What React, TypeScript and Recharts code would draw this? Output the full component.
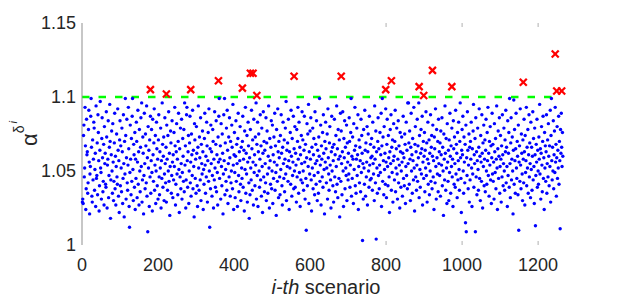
import { ScatterChart, Scatter, XAxis, YAxis, ReferenceLine } from "recharts";

// alpha^{delta^i} for every scenario i = 1..N (approx.)
const alpha = [
  1.029, 1.031, 1.028, 1.074, 1.081, 1.046, 1.052, 1.093, 1.067, 1.024, 1.038, 1.085, 1.061, 1.063, 1.035, 1.042, 1.078, 1.091, 1.056, 1.021,
  1.048, 1.053, 1.087, 1.099, 1.066, 1.033, 1.029, 1.071, 1.044, 1.058, 1.083, 1.079, 1.037, 1.051, 1.062, 1.026, 1.094, 1.045, 1.047, 1.069,
  1.034, 1.088, 1.076, 1.057, 1.023, 1.040, 1.064, 1.097, 1.052, 1.049, 1.031, 1.072, 1.086, 1.059, 1.036, 1.043, 1.068, 1.027, 1.080, 1.055,
  1.062, 1.041, 1.039, 1.090, 1.073, 1.025, 1.054, 1.058, 1.084, 1.032, 1.047, 1.066, 1.095, 1.070, 1.018, 1.044, 1.061, 1.077, 1.050, 1.035,
  1.082, 1.056, 1.030, 1.043, 1.069, 1.089, 1.038, 1.060, 1.027, 1.053, 1.075, 1.046, 1.041, 1.092, 1.064, 1.033, 1.057, 1.022, 1.071, 1.084,
  1.040, 1.067, 1.052, 1.036, 1.079, 1.063, 1.028, 1.045, 1.088, 1.055, 1.019, 1.070, 1.048, 1.099, 1.074, 1.031, 1.059, 1.085, 1.042, 1.037,
  1.054, 1.093, 1.065, 1.026, 1.012, 1.049, 1.081, 1.058, 1.034, 1.072, 1.043, 1.087, 1.099, 1.051, 1.030, 1.068, 1.061, 1.039, 1.076, 1.024,
  1.058, 1.045, 1.083, 1.070, 1.032, 1.056, 1.091, 1.041, 1.063, 1.027, 1.078, 1.050, 1.036, 1.066, 1.086, 1.053, 1.096, 1.029, 1.044, 1.073,
  1.062, 1.021, 1.047, 1.089, 1.055, 1.038, 1.075, 1.067, 1.042, 1.094, 1.033, 1.059, 1.009, 1.080, 1.052, 1.064, 1.026, 1.071, 1.046, 1.087,
  1.035, 1.057, 1.078, 1.049, 1.023, 1.085, 1.061, 1.043, 1.069, 1.092, 1.037, 1.054, 1.074, 1.028, 1.050, 1.083, 1.065, 1.040, 1.058, 1.031,
  1.071, 1.088, 1.046, 1.034, 1.063, 1.052, 1.079, 1.025, 1.057, 1.045, 1.096, 1.068, 1.039, 1.060, 1.073, 1.030, 1.048, 1.086, 1.055, 1.042,
  1.066, 1.029, 1.081, 1.058, 1.037, 1.074, 1.050, 1.090, 1.043, 1.062, 1.020, 1.053, 1.077, 1.069, 1.035, 1.047, 1.084, 1.056, 1.032, 1.061,
  1.044, 1.076, 1.053, 1.093, 1.067, 1.027, 1.041, 1.063, 1.082, 1.048, 1.058, 1.034, 1.070, 1.089, 1.051, 1.022, 1.065, 1.046, 1.079, 1.038,
  1.055, 1.085, 1.031, 1.049, 1.072, 1.060, 1.043, 1.078, 1.036, 1.096, 1.054, 1.067, 1.025, 1.044, 1.088, 1.093, 1.057, 1.039, 1.063, 1.074,
  1.028, 1.050, 1.069, 1.087, 1.042, 1.056, 1.033, 1.075, 1.061, 1.047, 1.091, 1.038, 1.064, 1.053, 1.019, 1.082, 1.071, 1.045, 1.058, 1.035,
  1.080, 1.062, 1.040, 1.026, 1.066, 1.094, 1.052, 1.037, 1.073, 1.059, 1.044, 1.086, 1.030, 1.068, 1.055, 1.048, 1.077, 1.063, 1.024, 1.051,
  1.041, 1.072, 1.089, 1.054, 1.035, 1.060, 1.046, 1.083, 1.067, 1.029, 1.057, 1.076, 1.043, 1.092, 1.050, 1.012, 1.065, 1.038, 1.081, 1.055,
  1.063, 1.033, 1.047, 1.078, 1.070, 1.025, 1.058, 1.044, 1.090, 1.052, 1.039, 1.068, 1.084, 1.036, 1.061, 1.049, 1.027, 1.073, 1.056, 1.087,
  1.099, 1.045, 1.058, 1.067, 1.031, 1.082, 1.053, 1.040, 1.075, 1.062, 1.021, 1.048, 1.088, 1.057, 1.099, 1.034, 1.069, 1.051, 1.043, 1.079,
  1.037, 1.091, 1.064, 1.028, 1.055, 1.073, 1.046, 1.086, 1.059, 1.033, 1.070, 1.042, 1.050, 1.081, 1.066, 1.038, 1.095, 1.054, 1.024, 1.061,
  1.076, 1.049, 1.032, 1.060, 1.084, 1.043, 1.068, 1.055, 1.026, 1.072, 1.089, 1.047, 1.036, 1.063, 1.057, 1.080, 1.041, 1.030, 1.066, 1.052,
  1.045, 1.070, 1.087, 1.039, 1.058, 1.064, 1.023, 1.077, 1.051, 1.093, 1.035, 1.062, 1.048, 1.074, 1.029, 1.056, 1.083, 1.067, 1.042, 1.018,
  1.059, 1.034, 1.078, 1.052, 1.044, 1.091, 1.065, 1.037, 1.071, 1.056, 1.027, 1.085, 1.049, 1.061, 1.040, 1.073, 1.054, 1.096, 1.031, 1.068,
  1.047, 1.083, 1.026, 1.063, 1.075, 1.050, 1.039, 1.058, 1.088, 1.044, 1.067, 1.033, 1.079, 1.053, 1.022, 1.062, 1.090, 1.046, 1.070, 1.036,
  1.064, 1.055, 1.042, 1.086, 1.030, 1.069, 1.077, 1.048, 1.035, 1.060, 1.094, 1.052, 1.025, 1.072, 1.057, 1.041, 1.066, 1.084, 1.038, 1.050,
  1.081, 1.028, 1.061, 1.045, 1.073, 1.056, 1.089, 1.037, 1.067, 1.049, 1.020, 1.078, 1.054, 1.043, 1.092, 1.063, 1.032, 1.070, 1.059, 1.046,
  1.034, 1.074, 1.051, 1.088, 1.062, 1.040, 1.027, 1.066, 1.083, 1.055, 1.045, 1.071, 1.036, 1.058, 1.079, 1.048, 1.097, 1.030, 1.064, 1.053,
  1.069, 1.043, 1.085, 1.057, 1.024, 1.063, 1.052, 1.076, 1.041, 1.091, 1.060, 1.033, 1.072, 1.047, 1.056, 1.087, 1.038, 1.065, 1.050, 1.080,
  1.039, 1.062, 1.054, 1.029, 1.078, 1.046, 1.070, 1.093, 1.058, 1.035, 1.083, 1.049, 1.066, 1.026, 1.061, 1.044, 1.074, 1.055, 1.090, 1.042,
  1.071, 1.050, 1.037, 1.064, 1.087, 1.056, 1.031, 1.068, 1.045, 1.010, 1.059, 1.082, 1.040, 1.075, 1.053, 1.095, 1.028, 1.063, 1.048, 1.077,
  1.058, 1.086, 1.044, 1.023, 1.066, 1.052, 1.079, 1.038, 1.061, 1.072, 1.047, 1.034, 1.090, 1.055, 1.068, 1.041, 1.084, 1.057, 1.030, 1.064,
  1.049, 1.035, 1.073, 1.060, 1.099, 1.043, 1.054, 1.081, 1.027, 1.067, 1.058, 1.046, 1.076, 1.039, 1.088, 1.062, 1.051, 1.021, 1.070, 1.056,
  1.083, 1.065, 1.042, 1.052, 1.075, 1.031, 1.092, 1.059, 1.048, 1.037, 1.069, 1.080, 1.054, 1.044, 1.025, 1.063, 1.087, 1.050, 1.066, 1.040,
  1.057, 1.029, 1.068, 1.085, 1.046, 1.061, 1.036, 1.074, 1.053, 1.094, 1.041, 1.065, 1.032, 1.078, 1.058, 1.045, 1.071, 1.019, 1.060, 1.089,
  1.043, 1.077, 1.055, 1.034, 1.063, 1.090, 1.050, 1.026, 1.072, 1.059, 1.084, 1.038, 1.066, 1.052, 1.047, 1.081, 1.030, 1.069, 1.056, 1.044,
  1.062, 1.048, 1.086, 1.070, 1.039, 1.054, 1.076, 1.099, 1.033, 1.060, 1.045, 1.073, 1.058, 1.028, 1.082, 1.051, 1.064, 1.093, 1.040, 1.067,
  1.035, 1.058, 1.079, 1.047, 1.061, 1.088, 1.024, 1.053, 1.071, 1.042, 1.066, 1.057, 1.036, 1.085, 1.049, 1.074, 1.062, 1.003, 1.055, 1.031,
  1.078, 1.052, 1.041, 1.091, 1.064, 1.033, 1.069, 1.046, 1.056, 1.080, 1.027, 1.063, 1.075, 1.050, 1.039, 1.087, 1.054, 1.044, 1.068, 1.059,
  1.045, 1.072, 1.060, 1.037, 1.083, 1.055, 1.048, 1.066, 1.030, 1.094, 1.058, 1.042, 1.077, 1.004, 1.063, 1.052, 1.035, 1.070, 1.086, 1.047,
  1.065, 1.038, 1.054, 1.076, 1.049, 1.061, 1.089, 1.026, 1.067, 1.099, 1.043, 1.073, 1.057, 1.034, 1.080, 1.051, 1.062, 1.041, 1.092, 1.056,
  1.032, 1.068, 1.085, 1.053, 1.040, 1.074, 1.059, 1.046, 1.022, 1.063, 1.078, 1.055, 1.088, 1.037, 1.066, 1.049, 1.071, 1.029, 1.057, 1.082,
  1.060, 1.044, 1.070, 1.091, 1.036, 1.052, 1.065, 1.079, 1.048, 1.031, 1.058, 1.084, 1.042, 1.067, 1.054, 1.025, 1.076, 1.063, 1.039, 1.050,
  1.073, 1.056, 1.033, 1.062, 1.087, 1.045, 1.059, 1.040, 1.075, 1.068, 1.028, 1.053, 1.083, 1.047, 1.064, 1.038, 1.096, 1.055, 1.096, 1.069,
  1.041, 1.077, 1.058, 1.030, 1.066, 1.089, 1.050, 1.061, 1.035, 1.072, 1.057, 1.044, 1.093, 1.052, 1.023, 1.068, 1.080, 1.046, 1.063, 1.037,
  1.054, 1.085, 1.043, 1.067, 1.059, 1.096, 1.032, 1.074, 1.051, 1.039, 1.062, 1.078, 1.048, 1.065, 1.087, 1.027, 1.056, 1.070, 1.045, 1.060,
  1.076, 1.036, 1.064, 1.052, 1.090, 1.047, 1.069, 1.029, 1.058, 1.083, 1.041, 1.055, 1.071, 1.034, 1.062, 1.050, 1.088, 1.043, 1.066, 1.074,
  1.038, 1.060, 1.081, 1.046, 1.057, 1.024, 1.073, 1.065, 1.042, 1.092, 1.053, 1.031, 1.078, 1.059, 1.048, 1.070, 1.036, 1.085, 1.055, 1.063,
  1.047, 1.069, 1.033, 1.077, 1.061, 1.054, 1.086, 1.040, 1.066, 1.050, 1.020, 1.075, 1.058, 1.044, 1.094, 1.062, 1.037, 1.072, 1.052, 1.028,
  1.082, 1.056, 1.043, 1.064, 1.030, 1.071, 1.049, 1.089, 1.060, 1.035, 1.067, 1.053, 1.079, 1.046, 1.058, 1.026, 1.084, 1.065, 1.041, 1.073,
  1.055, 1.039, 1.091, 1.048, 1.068, 1.062, 1.032, 1.076, 1.044, 1.057, 1.083, 1.051, 1.037, 1.070, 1.096, 1.059, 1.045, 1.022, 1.064, 1.078,
  1.061, 1.087, 1.050, 1.035, 1.073, 1.056, 1.042, 1.068, 1.015, 1.081, 1.009, 1.059, 1.047, 1.090, 1.064, 1.038, 1.054, 1.075, 1.029, 1.066,
  1.044, 1.070, 1.058, 1.083, 1.052, 1.026, 1.065, 1.048, 1.077, 1.095, 1.039, 1.061, 1.055, 1.072, 1.009, 1.086, 1.046, 1.063, 1.034, 1.057,
  1.079, 1.051, 1.037, 1.066, 1.092, 1.045, 1.060, 1.030, 1.074, 1.056, 1.043, 1.088, 1.062, 1.025, 1.069, 1.053, 1.081, 1.040, 1.058, 1.071,
  1.036, 1.064, 1.085, 1.050, 1.041, 1.076, 1.057, 1.093, 1.047, 1.062, 1.033, 1.070, 1.054, 1.080, 1.044, 1.067, 1.028, 1.059, 1.089, 1.048,
  1.068, 1.043, 1.056, 1.031, 1.082, 1.063, 1.049, 1.072, 1.038, 1.058, 1.094, 1.052, 1.024, 1.065, 1.077, 1.045, 1.060, 1.086, 1.035, 1.053,
  1.074, 1.058, 1.029, 1.067, 1.046, 1.088, 1.061, 1.040, 1.055, 1.079, 1.050, 1.037, 1.071, 1.063, 1.091, 1.042, 1.066, 1.053, 1.026, 1.084,
  1.047, 1.062, 1.076, 1.039, 1.099, 1.055, 1.032, 1.069, 1.086, 1.044, 1.058, 1.073, 1.050, 1.021, 1.064, 1.098, 1.041, 1.078, 1.057, 1.035,
  1.065, 1.089, 1.052, 1.045, 1.070, 1.060, 1.034, 1.081, 1.010, 1.056, 1.067, 1.043, 1.092, 1.054, 1.038, 1.075, 1.062, 1.048, 1.030, 1.071,
  1.058, 1.042, 1.085, 1.063, 1.027, 1.074, 1.049, 1.057, 1.093, 1.040, 1.066, 1.052, 1.078, 1.035, 1.061, 1.088, 1.046, 1.069, 1.055, 1.032,
  1.083, 1.051, 1.066, 1.037, 1.060, 1.090, 1.044, 1.072, 1.053, 1.028, 1.079, 1.061, 1.013, 1.047, 1.068, 1.056, 1.085, 1.039, 1.064, 1.050,
  1.041, 1.073, 1.058, 1.095, 1.048, 1.065, 1.031, 1.062, 1.080, 1.054, 1.036, 1.070, 1.087, 1.045, 1.059, 1.024, 1.076, 1.052, 1.067, 1.043,
  1.063, 1.088, 1.035, 1.055, 1.071, 1.046, 1.082, 1.060, 1.040, 1.067, 1.053, 1.091, 1.029, 1.074, 1.099, 1.057, 1.044, 1.066, 1.050, 1.084,
  1.038, 1.061, 1.077, 1.049, 1.093, 1.056, 1.068, 1.033, 1.059, 1.080, 1.045, 1.064, 1.052, 1.087, 1.041, 1.070, 1.057, 1.011, 1.078, 1.062,
  1.089, 1.066, 1.053, 1.076, 1.060,
];

// scenarios whose value goes above the threshold (red crosses)
const exceedIdx = [180, 222, 286, 359, 422, 443, 450, 460, 558, 682, 799, 814, 887, 899, 922, 973, 1161, 1245, 1249, 1262];
const exceedAlpha = [1.105, 1.102, 1.105, 1.111, 1.106, 1.116, 1.116, 1.101, 1.114, 1.114, 1.105, 1.111, 1.107, 1.101, 1.118, 1.107, 1.11, 1.129, 1.104, 1.104];

const threshold = 1.1;
const xTicks = [0, 200, 400, 600, 800, 1000, 1200];
const yTicks = [1, 1.05, 1.1, 1.15];

const below = alpha.map((y, i) => ({ x: i + 1, y }));
const above = exceedIdx.map((x, i) => ({ x, y: exceedAlpha[i] }));

const FONT = '"Liberation Sans", Arial, Helvetica, sans-serif';
const INK = "#262626";

function XTick(props: any) {
  const { x, y, payload } = props;
  const v = payload.value;
  return (
    <g>
      {v >= 800 && <line x1={x} x2={x} y1={y} y2={y - 4} stroke="#b0b0b0" />}
      {v >= 800 && <line x1={x} x2={x} y1={y - 222} y2={y - 218} stroke="#b0b0b0" />}
      <text x={x} y={y + 20} dy="0.35em" textAnchor="middle" fontSize={18} fill={INK} fontFamily={FONT}>
        {v}
      </text>
    </g>
  );
}

function YTick(props: any) {
  const { x, y, payload } = props;
  return (
    <text x={x - 6} y={y} dy="0.35em" textAnchor="end" fontSize={18} fill={INK} fontFamily={FONT}>
      {payload.value}
    </text>
  );
}

function XLabel() {
  return (
    <text x={326} y={294} textAnchor="middle" fontSize={20} fill={INK} fontFamily={FONT}>
      <tspan fontStyle="italic">i-th</tspan> scenario
    </text>
  );
}

function YLabel() {
  return (
    <g transform="translate(37,146) rotate(-90)">
      <text fontSize={22} fill={INK} fontFamily={FONT}>
        α
        <tspan fontSize={14} dy={-13}>δ</tspan>
        <tspan fontSize={11} fontStyle="italic" dy={-7} dx={2}>i</tspan>
      </text>
    </g>
  );
}

const blueDot = (p: any) => <circle cx={p.cx} cy={p.cy} r={1.7} fill="#0000ff" />;

const redCross = (p: any) => (
  <g stroke="#ff0000" strokeWidth={2.2}>
    <line x1={p.cx - 3.5} y1={p.cy - 3.5} x2={p.cx + 3.5} y2={p.cy + 3.5} />
    <line x1={p.cx - 3.5} y1={p.cy + 3.5} x2={p.cx + 3.5} y2={p.cy - 3.5} />
  </g>
);

export default function App() {
  return (
    <div style={{ position: "absolute", left: 0, top: 0, background: "#fff" }}>
      <ScatterChart width={623} height={301} margin={{ top: 23, right: 56, bottom: 0, left: 22 }}>
        <XAxis
          type="number"
          dataKey="x"
          domain={[0, 1276]}
          ticks={xTicks}
          interval={0}
          axisLine={false}
          tickLine={false}
          tickSize={0}
          tickMargin={0}
          height={56}
          tick={<XTick />}
          label={<XLabel />}
        />
        <YAxis
          type="number"
          dataKey="y"
          domain={[1, 1.15]}
          ticks={yTicks}
          interval={0}
          axisLine={{ stroke: "#8f8f8f" }}
          tickLine={false}
          tickSize={0}
          tickMargin={0}
          width={60}
          tick={<YTick />}
          label={<YLabel />}
        />
        <Scatter data={below} shape={blueDot} isAnimationActive={false} />
        <ReferenceLine
          segment={[{ x: 0, y: threshold }, { x: 1250, y: threshold }]}
          stroke="#00ff00"
          strokeWidth={2.5}
          strokeDasharray="7.5 9"
        />
        <Scatter data={above} shape={redCross} isAnimationActive={false} />
      </ScatterChart>
    </div>
  );
}
